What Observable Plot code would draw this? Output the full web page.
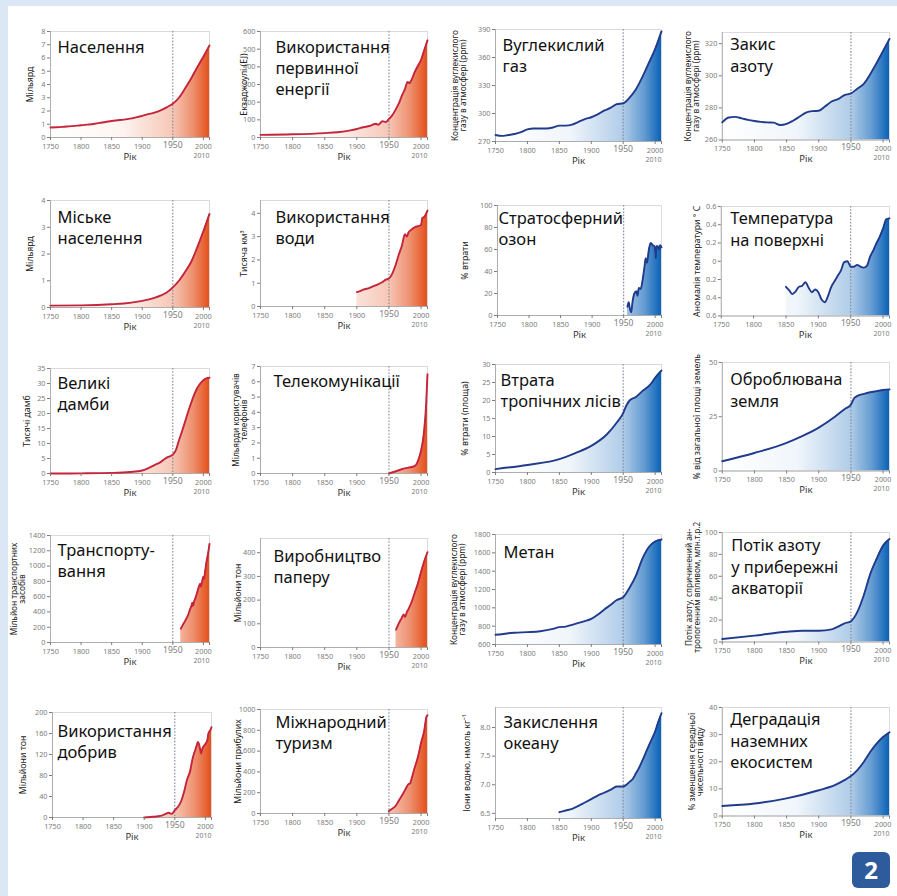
<!DOCTYPE html>
<html>
<head>
<meta charset="utf-8">
<script src="https://cdn.jsdelivr.net/npm/d3@7"></script>
<script src="https://cdn.jsdelivr.net/npm/@observablehq/plot@0.6"></script>
<style>
html, body { margin: 0; padding: 0; background: #fff; overflow: hidden; }
#page { position: relative; width: 897px; height: 896px; background: #fff; overflow: hidden; }
#bandL { position: absolute; left: 0; top: 0; width: 8px; height: 896px; background: #dce7f5; }
#bandT { position: absolute; left: 0; top: 0; width: 897px; height: 6px; background: #dce7f5; }
.panel { position: absolute; }
.panel svg { overflow: visible; }
#badge { position: absolute; left: 852px; top: 852px; width: 38px; height: 36px; background: #2e5b9c; border-radius: 6px;
  color: #fff; font: bold 24px "Noto Sans", sans-serif; text-align: center; line-height: 36px; }
</style>
</head>
<body>
<div id="page"><div id="bandL"></div><div id="bandT"></div><div id="badge">2</div></div>
<script>
// ---------- data (year, value) ----------
const population = [[1750,0.75],[1760,0.77],[1770,0.8],[1780,0.84],[1790,0.88],[1800,0.92],[1810,0.97],[1820,1.02],[1830,1.1],[1840,1.17],[1850,1.25],[1860,1.3],[1870,1.35],[1880,1.42],[1890,1.52],[1900,1.63],[1910,1.76],[1920,1.88],[1930,2.05],[1940,2.28],[1950,2.55],[1960,3.0],[1970,3.7],[1980,4.45],[1990,5.3],[2000,6.1],[2010,6.95]];
const energy = [[1750,15],[1800,18],[1850,25],[1870,30],[1890,40],[1900,48],[1910,58],[1920,65],[1930,78],[1933,72],[1940,92],[1945,88],[1950,105],[1955,125],[1960,155],[1965,190],[1970,235],[1975,275],[1979,315],[1982,308],[1985,325],[1990,370],[1995,405],[2000,440],[2005,495],[2010,550]];
const co2 = [[1750,277],[1760,276],[1770,277],[1780,278],[1790,280],[1800,283],[1810,284],[1820,284],[1830,284],[1840,285],[1850,287],[1860,287],[1870,288],[1880,291],[1890,294],[1900,296],[1910,299],[1920,303],[1930,306],[1940,310],[1950,311],[1960,317],[1970,326],[1980,339],[1990,354],[2000,369],[2010,388]];
const n2o = [[1750,271],[1760,274],[1770,274.4],[1780,273.5],[1790,272.5],[1800,271.8],[1810,271.3],[1820,271],[1830,270.8],[1840,269.3],[1850,270],[1860,272],[1870,274.5],[1880,277],[1890,278],[1900,278.2],[1910,281],[1920,284],[1930,285.5],[1940,288],[1950,289],[1960,292],[1970,295],[1980,301],[1990,308],[2000,315.5],[2010,323]];
const urban = [[1750,0.07],[1800,0.08],[1850,0.12],[1870,0.15],[1890,0.21],[1900,0.25],[1920,0.36],[1930,0.44],[1940,0.56],[1950,0.75],[1960,1.0],[1970,1.33],[1980,1.7],[1990,2.25],[2000,2.85],[2010,3.5]];
const water = [[1900,0.62],[1905,0.66],[1910,0.72],[1920,0.8],[1930,0.92],[1940,1.05],[1945,1.15],[1950,1.2],[1955,1.4],[1960,1.75],[1965,2.2],[1970,2.6],[1975,3.1],[1978,3.0],[1980,3.15],[1985,3.3],[1990,3.4],[1995,3.45],[2000,3.5],[2002,3.8],[2005,3.85],[2010,4.12]];
const ozone = [[1956,8],[1958,12],[1960,6],[1962,3],[1964,12],[1967,20],[1970,22],[1972,18],[1974,25],[1977,24],[1980,32],[1983,44],[1985,52],[1987,48],[1990,60],[1993,66],[1996,64],[1999,63],[2001,52],[2002,63],[2004,63],[2006,60],[2008,64],[2010,62]];
const temperature = [[1850,-0.28],[1855,-0.32],[1860,-0.36],[1865,-0.33],[1870,-0.28],[1875,-0.27],[1880,-0.23],[1885,-0.29],[1890,-0.34],[1895,-0.31],[1900,-0.34],[1905,-0.42],[1910,-0.45],[1915,-0.38],[1920,-0.28],[1925,-0.22],[1930,-0.16],[1935,-0.1],[1940,-0.01],[1945,0.0],[1950,-0.06],[1955,-0.06],[1960,-0.04],[1965,-0.06],[1970,-0.07],[1975,-0.05],[1980,0.05],[1985,0.12],[1990,0.2],[1995,0.27],[2000,0.36],[2005,0.46],[2010,0.47]];
const dams = [[1750,0],[1800,0.05],[1850,0.2],[1880,0.5],[1900,1.0],[1910,1.8],[1920,2.8],[1930,3.8],[1940,5.3],[1950,6.3],[1955,7.8],[1960,11],[1965,14],[1970,17.2],[1975,20.5],[1980,23.5],[1985,26.3],[1990,28.5],[1995,30],[2000,31.1],[2005,31.7],[2010,31.9]];
const telecom = [[1950,0],[1960,0.13],[1970,0.28],[1980,0.38],[1990,0.48],[1995,0.8],[2000,1.5],[2003,2.2],[2005,2.9],[2008,4.6],[2010,6.5]];
const tropical = [[1750,0.95],[1800,2.1],[1850,3.7],[1875,5.4],[1900,7.4],[1925,10.7],[1940,13.9],[1950,16.5],[1955,18.6],[1960,20],[1970,21],[1980,22.6],[1990,24],[1995,25],[2000,26.3],[2010,28.3]];
const cropland = [[1750,4.5],[1800,8.3],[1850,13],[1875,16.2],[1900,20],[1925,25],[1940,28.5],[1950,30.6],[1955,33.5],[1960,34.6],[1970,35.5],[1980,36.3],[1990,36.8],[2000,37.3],[2010,37.6]];
const transport = [[1963,180],[1967,240],[1970,280],[1975,360],[1978,430],[1980,470],[1982,520],[1983,480],[1985,540],[1987,580],[1990,660],[1993,740],[1995,770],[1996,730],[1998,800],[2000,860],[2001,830],[2003,940],[2005,1050],[2008,1180],[2010,1290]];
const paper = [[1961,75],[1965,100],[1970,125],[1973,140],[1975,128],[1978,150],[1980,160],[1985,190],[1990,230],[1995,270],[2000,320],[2005,365],[2010,402]];
const methane = [[1750,706],[1760,712],[1770,722],[1780,728],[1800,735],[1820,745],[1840,770],[1850,789],[1860,795],[1870,815],[1880,835],[1890,855],[1900,880],[1910,925],[1920,980],[1930,1030],[1940,1085],[1950,1116],[1960,1220],[1970,1352],[1980,1534],[1990,1661],[2000,1723],[2010,1745]];
const nitrogen = [[1750,2.7],[1800,5.8],[1850,9.4],[1875,10.3],[1900,10.3],[1920,11.5],[1930,14],[1940,17],[1950,19],[1960,27.5],[1970,42.7],[1980,62],[1990,76],[2000,88],[2010,94]];
const fertilizer = [[1900,0],[1910,1],[1920,2],[1930,4],[1935,7],[1940,9],[1945,7],[1950,14],[1955,20],[1960,30],[1965,48],[1970,72],[1975,88],[1978,106],[1980,116],[1985,134],[1988,144],[1990,138],[1993,122],[1995,131],[2000,140],[2003,146],[2005,160],[2008,166],[2010,172]];
const tourism = [[1950,25],[1955,45],[1960,70],[1965,120],[1970,170],[1975,225],[1980,280],[1983,290],[1985,330],[1990,440],[1995,540],[2000,680],[2005,800],[2008,920],[2010,945]];
const ocean = [[1850,6.52],[1860,6.55],[1870,6.58],[1880,6.63],[1890,6.69],[1900,6.75],[1910,6.81],[1920,6.86],[1930,6.91],[1940,6.97],[1950,6.97],[1955,7.0],[1960,7.05],[1965,7.1],[1970,7.2],[1975,7.3],[1980,7.42],[1985,7.55],[1990,7.68],[1995,7.8],[2000,7.93],[2005,8.1],[2010,8.25]];
const degradation = [[1750,3.7],[1800,4.6],[1850,6.5],[1900,9.5],[1925,11.4],[1940,13.2],[1950,14.7],[1960,16.9],[1970,19.9],[1980,23.6],[1990,26.7],[2000,29.1],[2010,30.9]];

// ---------- text ----------
const titles = ["Населення","Використання\nпервинної\nенергії","Вуглекислий\nгаз","Закис\nазоту",
  "Міське\nнаселення","Використання\nводи","Стратосферний\nозон","Температура\nна поверхні",
  "Великі\nдамби","Телекомунікації","Втрата\nтропічних лісів","Оброблювана\nземля",
  "Транспорту-\nвання","Виробництво\nпаперу","Метан","Потік азоту\nу прибережні\nакваторії",
  "Використання\nдобрив","Міжнародний\nтуризм","Закислення\nокеану","Деградація\nназемних\nекосистем"];
const yLabels = ["Мільярд","Екзаджоулі (EJ)","Концентрація вуглекислого\nгазу в атмосфері (ppm)","Концентрація вуглекислого\nгазу в атмосфері (ppm)",
  "Мільярд","Тисяча км³","% втрати","Аномалія температури ° С",
  "Тисячі дамб","Мільярди користувачів\nтелефонів","% втрати (площа)","% від загальної площі земель",
  "Мільйон транспортних\nзасобів","Мільйони тон","Концентрація вуглекислого\nгазу в атмосфері (ppm)","Потік азоту, спричинений ан-\nтропогенним впливом, млн.т.р.2",
  "Мільйони тон","Мільйони прибулих","Іони водню, нмоль кг⁻¹","% зменшення середньої\nчисельності виду"];
const xLabel = "Рік";
const xTicks = [1750, 1800, 1850, 1900, 1950, 2000, 2010];
const series = [population, energy, co2, n2o, urban, water, ozone, temperature, dams, telecom, tropical, cropland,
  transport, paper, methane, nitrogen, fertilizer, tourism, ocean, degradation];
const yDomains = [[0,8],[0,600],[270,390],[260,327],[0,4],[0,4.55],[0,100],[-0.6,0.6],[0,35],[0,7],[0,30],[0,50],
  [0,1400],[0,460],[600,1800],[0,100],[0,200],[0,1000],[6.41,8.35],[0,40]];
const yTicks = [d3.range(0,9,1), d3.range(0,601,100), [270,300,330,360,390], [260,280,300,320],
  [0,1,2,3,4], [0,1,2,3,4], [0,20,40,60,80,100], [-0.6,-0.4,-0.2,0,0.2,0.4,0.6],
  [0,5,10,15,20,25,30,35], [0,1,2,3,4,5,6,7], [0,5,10,15,20,25,30], [0,25,50],
  [0,200,400,600,800,1000,1200,1400], [0,100,200,300,400], [600,800,1000,1200,1400,1600,1800], [0,20,40,60,80,100],
  [0,40,80,120,160,200], [0,200,400,600,800,1000], [6.5,7.0,7.5,8.0], [0,10,20,30,40]];
const yFormats = Array(20).fill(d => String(d));
yFormats[7] = d => d === 0 ? "0" : Math.abs(d).toFixed(1);
yFormats[18] = d => d.toFixed(1);
const palette = [0,0,1,1, 0,0,1,1, 0,0,1,1, 0,0,1,1, 0,0,1,1];

// ---------- layout & style ----------
// [frameX, frameY, frameW, frameH, titleDx, titleBaseline, labelDx]
const layout = [
  [50,31,159,106, 7,21,20], [260,31,167,106, 15,21,16], [495,29,166,112, 7,21,36], [722,32,168,108, 8,18,30],
  [50,200,159,107, 7,22,20], [260,200,167,106, 15,22,16], [497,205,164,110, 1,18,32], [721,206,169,110, 9,18,24],
  [50,368,159,105, 7,20,23], [260,366,167,107, 13,20,20], [495,364,166,108, 5,21,30], [722,362,168,109, 8,23,25],
  [50,535,159,107, 7,20,32], [260,538,167,109, 13,23,22], [495,534,166,110, 8,23,37], [722,532,168,110, 9,19,29],
  [52,712,159,105, 5,24,29], [260,709,167,104, 15,18,22], [495,707,166,111, 8,20,28], [722,707,168,109, 8,18,26]
];
const COLORS = [
  {line: "#c4253a", fill: "#e4501b"},
  {line: "#213b8c", fill: "#0a62b8"}
];
const TITLE_FS = 16.5, TITLE_LH = 1.3;
const FONT = "'Noto Sans', sans-serif";
const page = document.getElementById("page");

series.forEach((data, i) => {
  const [fx, fy, fw, fh, tdx, tbase, ldx] = layout[i];
  const [lo, hi] = yDomains[i];
  const col = COLORS[palette[i]];
  const gid = "grad" + i;
  const rows = data.map(([year, value]) => ({year, value}));
  const twoLine = yLabels[i].includes("\n");
  const mL = 50, mR = 8, mT = 4, mB = 30;
  const gradient = (index, scales) => {
    const ns = "http://www.w3.org/2000/svg";
    const defs = document.createElementNS(ns, "defs");
    const g = document.createElementNS(ns, "linearGradient");
    g.setAttribute("id", gid);
    g.setAttribute("gradientUnits", "userSpaceOnUse");
    g.setAttribute("x1", scales.x(1750)); g.setAttribute("x2", scales.x(2010));
    g.setAttribute("y1", 0); g.setAttribute("y2", 0);
    [[0, 0], [0.45, 0.06], [200/260, 0.32], [0.9, 0.64], [1, 1]].forEach(([o, a]) => {
      const s = document.createElementNS(ns, "stop");
      s.setAttribute("offset", o); s.setAttribute("stop-color", col.fill); s.setAttribute("stop-opacity", a);
      g.appendChild(s);
    });
    defs.appendChild(g);
    return defs;
  };
  const chart = Plot.plot({
    width: fw + mL + mR, height: fh + mT + mB,
    marginLeft: mL, marginRight: mR, marginTop: mT, marginBottom: mB,
    style: {background: "transparent", fontFamily: FONT, overflow: "visible"},
    x: {domain: [1750, 2010]},
    y: {domain: [lo, hi]},
    marks: [
      gradient,
      Plot.areaY(rows, {x: "year", y1: () => lo, y2: "value", fill: `url(#${gid})`, curve: "monotone-x"}),
      Plot.frame({stroke: "#d2d2d2", strokeWidth: 0.8}),
      Plot.ruleX([1950], {stroke: "#7e879b", strokeWidth: 1.1, strokeDasharray: "1.6,1.6"}),
      Plot.ruleX([1750], {stroke: "#a8a8a8", strokeWidth: 0.9}),
      Plot.ruleY([lo], {stroke: "#a8a8a8", strokeWidth: 0.9}),
      Plot.line(rows, {x: "year", y: "value", stroke: col.line, strokeWidth: 1.9, curve: "monotone-x"}),
      Plot.axisY({ticks: yTicks[i], tickFormat: yFormats[i], tickSize: 3, tickPadding: 2, fontSize: 7.3, color: "#7d7d7d", label: null}),
      Plot.axisX({ticks: xTicks, tickFormat: d => (d === 1950 || d === 2010) ? "" : String(d), tickSize: 3, tickPadding: 3, fontSize: 7.3, color: "#7d7d7d", label: null}),
      Plot.text([1950], {x: d => d, text: d => String(d), frameAnchor: "bottom", dy: 10.5, fontSize: 8.6, fill: "#7d7d7d"}),
      Plot.text([2010], {x: d => d, text: d => String(d), frameAnchor: "bottom", textAnchor: "end", dy: 20.5, fontSize: 7, fill: "#7d7d7d"}),
      Plot.text([xLabel], {frameAnchor: "bottom", dy: 22, fontSize: 9.5, fill: "#333"}),
      Plot.text([yLabels[i]], {frameAnchor: "left", textAnchor: "middle", dx: -ldx, rotate: -90,
        fontSize: twoLine ? 8.3 : 8.8, lineHeight: 0.95, fill: "#222"}),
      Plot.text([titles[i]], {frameAnchor: "top-left", textAnchor: "start", lineAnchor: "top",
        dx: tdx, dy: tbase - 0.71 * TITLE_LH * TITLE_FS, fontSize: TITLE_FS, lineHeight: TITLE_LH, fill: "#111"})
    ]
  });
  const div = document.createElement("div");
  div.className = "panel";
  div.style.left = (fx - mL) + "px";
  div.style.top = (fy - mT) + "px";
  div.appendChild(chart);
  page.appendChild(div);
});
</script>
</body>
</html>
